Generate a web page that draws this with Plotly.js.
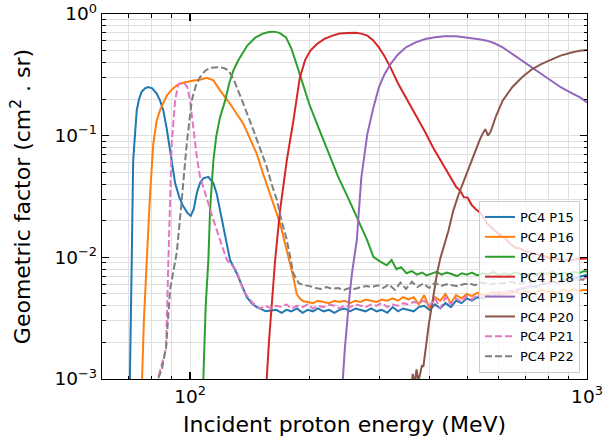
<!DOCTYPE html>
<html>
<head>
<meta charset="utf-8">
<script src="https://cdn.plot.ly/plotly-3.0.1.min.js"></script>
<style>html,body{margin:0;padding:0;background:#fff;}#chart{width:606px;height:445px;}</style>
</head>
<body>
<div id="chart"></div>
<script>
// ---- data (energy in MeV, geometric factor in cm^2 sr) ----
const seriesNames = ['PC4 P15','PC4 P16','PC4 P17','PC4 P18','PC4 P19','PC4 P20','PC4 P21','PC4 P22'];

const E15 = [70.3,70.6,71.3,71.9,72.6,73.4,74.4,75.5,77.0,78.5,80.3,82.4,84.0,85.6,87.3,89.0,90.4,91.7,94.0,96.2,98.5,100.4,102.2,104.0,106.0,108.0,111.2,114.5,116.8,119.0,122.5,126.1,131.1,135.0,139.0,143.0,147.2,
  150,155,160,165,170,175,180,186,192,198,204,210,217,224,231,238,245,253,261,269,277,286,295,304,314,324,334,344,355,366,377,389,401,414,427,440,454,468,483,498,513,529,546,563,581,599,618,638,658,679,700,722,745,768,792,817,843,870,897,925,954,984,1000];
const G15 = [0.0005,0.001,0.0095,0.0628,0.11,0.162,0.2,0.229,0.245,0.251,0.245,0.222,0.195,0.162,0.115,0.076,0.055,0.0408,0.031,0.0261,0.0232,0.0219,0.025,0.0338,0.041,0.0446,0.0459,0.0406,0.033,0.0245,0.0155,0.0095,0.0074,0.0058,0.0047,0.0042,0.0039,
  0.0038,0.0036,0.00365,0.0037,0.0035,0.0037,0.0036,0.0038,0.0035,0.0037,
  0.0036,0.0038,0.0036,0.0037,0.0035,0.0037,0.0038,0.0036,0.0038,0.0037,
  0.0036,0.0038,0.0036,0.0037,0.0035,0.0039,0.0036,0.0038,0.0037,0.0036,
  0.0039,0.0040,0.0037,0.0041,0.0038,0.0042,0.0039,0.0044,0.0042,0.0046,
  0.0044,0.0047,0.0046,0.0049,0.0048,0.0051,0.0050,0.0053,0.0052,0.0055,
  0.0056,0.0058,0.0057,0.0060,0.0061,0.0063,0.0062,0.0066,0.0065,0.0068,
  0.0069,0.0071,0.0072];

const E16 = [75.2,75.6,76.5,77.8,79.3,80.8,82.3,84.0,85.7,87.4,90.0,92.6,96.0,100,103,106,110.2,114.5,119,126.1,131,136.2,141.5,147.2,153,159,164,168.6,173,176.9,180,182,184,185.6,189,193,
  198,204,210,217,224,231,238,245,253,261,269,277,286,295,304,314,324,334,344,355,366,377,389,401,414,427,440,454,468,483,498,513,529,546,563,581,599,618,638,658,679,700,722,745,768,792,817,843,870,897,925,954,984,1000];
const G16 = [0.0005,0.001,0.003,0.0095,0.0334,0.086,0.13,0.162,0.19,0.214,0.24,0.259,0.272,0.281,0.285,0.288,0.299,0.285,0.236,0.183,0.152,0.1255,0.095,0.0711,0.048,0.0334,0.024,0.019,0.0135,0.0101,0.0082,0.0069,0.0058,0.0050,0.0046,0.00436,
  0.0043,0.0042,0.0044,0.0043,0.0042,0.0044,0.0043,0.0044,0.0042,0.0044,
  0.0043,0.0045,0.0044,0.0043,0.0045,0.0044,0.0046,0.0044,0.0047,0.0045,
  0.0047,0.0041,0.0049,0.0038,0.0047,0.0044,0.0050,0.0042,0.0049,0.0046,
  0.0050,0.0048,0.0051,0.0049,0.0050,0.0052,0.0049,0.0051,0.0050,0.0052,
  0.0050,0.0053,0.0051,0.0052,0.0054,0.0052,0.0053,0.0051,0.0054,0.0052,
  0.0055,0.0053,0.0054,0.0054];

const E17 = [107.5,108.0,109.5,111.2,112.3,114.5,116.5,119,122.6,125.5,128.6,132.3,139.4,146,152.5,158,163,168,174.5,180,186.6,193,199.6,211,223.4,236,249.8,264,279,289.6,300,313,322,331,340,351,
  362,373,384,394,406,418,430,443,456,470,484,498,513,529,546,563,581,599,618,638,658,679,700,722,745,768,792,817,843,870,897,925,954,984,1000];
const G17 = [0.0005,0.001,0.004,0.0095,0.0245,0.0628,0.1,0.142,0.195,0.27,0.344,0.416,0.55,0.64,0.69,0.71,0.716,0.70,0.643,0.52,0.364,0.26,0.182,0.115,0.0707,0.046,0.0311,0.021,0.014,0.0101,0.0093,0.0086,0.0095,0.0080,0.0083,0.0074,
  0.0077,0.0072,0.0075,0.0071,0.0074,0.0076,0.0072,0.0075,0.0073,0.0070,
  0.0074,0.0072,0.0075,0.0071,0.0074,0.0072,0.0076,0.0071,0.0074,0.0072,
  0.0075,0.0073,0.0071,0.0074,0.0072,0.0075,0.0073,0.0076,0.0072,0.0075,
  0.0073,0.0076,0.0074,0.0077,0.0076];

const E18 = [155.5,156,158,160.5,163.8,168.6,175.3,182.2,189,195,201,208.8,218,228.4,238,249.8,261.3,270,279.6,289,299,309,319.8,334,349.9,362,374.2,391,409.4,428,447.8,468,480,489.8,500,512,524,540,560,580,600,620,640,660,680,700,730,760,790,820,860,900,950,1000];
const G18 = [0.0005,0.001,0.002,0.0039,0.0095,0.0245,0.063,0.134,0.30,0.42,0.50,0.567,0.625,0.664,0.69,0.698,0.70,0.69,0.664,0.61,0.532,0.45,0.364,0.27,0.206,0.17,0.141,0.107,0.08,0.062,0.0484,0.038,0.035,0.0311,0.031,0.027,0.025,0.023,0.019,0.017,0.0155,0.0145,0.013,0.012,0.0118,0.0112,0.0108,0.0104,0.0101,0.0098,0.0096,0.0094,0.0097,0.0098];

const E19 = [242,242.6,245.5,248.3,252,255.8,263.1,270,279.6,289,299,309,319.8,334,349.9,370,391.4,414,437.8,468.3,490,512.3,535,560,585,613.1,648,686,725,767.4,810,858.4,910,960.5,1000];
const G19 = [0.0005,0.001,0.0018,0.00286,0.0047,0.0074,0.0139,0.045,0.103,0.165,0.25,0.32,0.388,0.465,0.532,0.585,0.623,0.645,0.655,0.655,0.645,0.631,0.62,0.604,0.575,0.532,0.47,0.413,0.365,0.321,0.285,0.25,0.226,0.206,0.188];

const E20 = [360,364,368,372,376,380,384,387,394,400,406,412,419,427,435,443,447.8,460,475,489.8,505,520,535.8,545,554.2,558,562.9,568,573,590,613,648,686,725,767,810,858,910,960,1000];
const G20 = [0.0008,0.0011,0.0009,0.0012,0.00095,0.0011,0.0013,0.00126,0.0021,0.0029,0.0039,0.0053,0.0074,0.0098,0.0122,0.0145,0.0166,0.024,0.033,0.0427,0.056,0.072,0.091,0.103,0.113,0.108,0.1,0.104,0.11,0.145,0.194,0.25,0.302,0.35,0.388,0.42,0.455,0.48,0.50,0.506];

const E21 = [82.5,83.1,84.0,85.6,87.0,88.2,89.0,89.9,91.7,93.4,96.2,98.4,100,101.9,104,106,110.2,114.5,119,123.8,131,136,140,144,150,
  155,160,165,170,175,180,186,192,198,204,210,217,224,231,238,245,253,261,269,277,286,295,304,314,324,334,344,355,366,377,389,401,414,427,440,454,468,483,498,513,529,546,563,581,599,618,638,658,679,700,722,745,768,792,817,843,870,897,925,954,984,1000];
const G21 = [0.0006,0.001,0.00117,0.00147,0.00178,0.0095,0.0297,0.086,0.195,0.264,0.276,0.251,0.195,0.118,0.067,0.0458,0.0297,0.0203,0.0139,0.0095,0.0078,0.0054,0.0047,0.0042,0.0038,
  0.0040,0.0038,0.0040,0.0039,0.0041,0.0038,0.0040,0.0039,0.0041,0.0038,
  0.0040,0.0039,0.0041,0.0040,0.0038,0.0040,0.0039,0.0041,0.0040,0.0039,
  0.0041,0.0040,0.0042,0.0039,0.0041,0.0040,0.0042,0.0041,0.0043,0.0042,
  0.0044,0.0040,0.0046,0.0038,0.0047,0.0041,0.0046,0.0043,0.0048,0.0045,
  0.0049,0.0047,0.0050,0.0049,0.0052,0.0051,0.0053,0.0054,0.0055,0.0056,
  0.0057,0.0058,0.0059,0.0060,0.0062,0.0061,0.0064,0.0063,0.0066,0.0065,
  0.0067,0.0068];

const E22 = [82.0,83.0,84.9,87.0,89.1,92.6,95.3,98.1,101,103.5,106,109,112.3,116,119,122,124.9,128.6,132,136.2,144.4,150,156,160.5,165.4,170,175.3,182,188.1,194,200.5,
  207,214,221,228,236,244,252,260,269,278,287,297,307,317,328,339,350,362,374,387,400,414,428,442,457,472,488,505,522,540,558,577,597,617,638,660,682,705,729,754,780,806,834,862,891,921,953,985,1000];
const G22 = [0.0007,0.001,0.0012,0.0018,0.0055,0.011,0.0297,0.086,0.195,0.26,0.303,0.34,0.362,0.367,0.366,0.358,0.344,0.294,0.24,0.183,0.111,0.08,0.0554,0.04,0.0297,0.02,0.0139,0.0074,0.0061,0.0059,0.0058,
  0.0056,0.0055,0.0057,0.0055,0.0056,0.0054,0.0056,0.0055,0.0057,0.0058,
  0.0057,0.0059,0.0056,0.0060,0.0054,0.0062,0.0055,0.0063,0.0057,0.0061,
  0.0056,0.0062,0.0058,0.0060,0.0059,0.0058,0.0060,0.0061,0.0059,0.0062,
  0.0061,0.0060,0.0062,0.0061,0.0063,0.0062,0.0061,0.0063,0.0062,0.0064,
  0.0063,0.0062,0.0064,0.0063,0.0065,0.0064,0.0066,0.0065,0.0065];

const xTickVals = [100, 1000];
const xTickText = ['10<sup>2</sup>', '10<sup>3</sup>'];
const xMinorVals = [60,70,80,90,200,300,400,500,600,700,800,900];
const yTickVals = [0.001, 0.01, 0.1, 1];
const yTickText = ['10<sup>−3</sup>', '10<sup>−2</sup>', '10<sup>−1</sup>', '10<sup>0</sup>'];
const yMinorVals = [0.002,0.003,0.004,0.005,0.006,0.007,0.008,0.009,0.02,0.03,0.04,0.05,0.06,0.07,0.08,0.09,0.2,0.3,0.4,0.5,0.6,0.7,0.8,0.9];

// ---- styling ----
const colors = ['#1f77b4','#ff7f0e','#2ca02c','#d62728','#9467bd','#8c564b','#e377c2','#7f7f7f'];
const dashes = ['solid','solid','solid','solid','solid','solid','7px,3px','7px,3px'];
const xs = [E15,E16,E17,E18,E19,E20,E21,E22];
const ys = [G15,G16,G17,G18,G19,G20,G21,G22];

const traces = seriesNames.map((n, i) => ({
  type: 'scatter', mode: 'lines', name: n,
  x: xs[i], y: ys[i],
  line: {color: colors[i], width: 2, dash: dashes[i]}
}));

const font = 'DejaVu Sans, sans-serif';
const gridC = '#e0e0e0';

const layout = {
  width: 606, height: 445,
  margin: {l: 102, r: 19, t: 14, b: 66, pad: 0},
  paper_bgcolor: '#ffffff', plot_bgcolor: '#ffffff',
  font: {family: font, color: '#000000', size: 18},
  showlegend: true,
  xaxis: {
    type: 'log', range: [Math.log10(60), 3],
    tickmode: 'array', tickvals: xTickVals, ticktext: xTickText,
    ticks: 'inside', ticklen: 7, tickwidth: 1.3, tickcolor: '#000',
    showline: true, linecolor: '#000', linewidth: 1.3, mirror: 'allticks',
    showgrid: true, gridcolor: gridC, gridwidth: 1, zeroline: false,
    ticklabeloverflow: 'allow',
    tickfont: {family: font, size: 18.5, color: '#000'},
    minor: {tickmode: 'array', tickvals: xMinorVals, ticks: 'inside', ticklen: 3.5, tickwidth: 1, tickcolor: '#000', showgrid: true, gridcolor: gridC, gridwidth: 1},
    title: {text: 'Incident proton energy (MeV)', font: {family: font, size: 22, color: '#000'}, standoff: 11}
  },
  yaxis: {
    type: 'log', range: [-3, 0],
    tickmode: 'array', tickvals: yTickVals, ticktext: yTickText,
    ticks: 'inside', ticklen: 7, tickwidth: 1.3, tickcolor: '#000',
    showline: true, linecolor: '#000', linewidth: 1.3, mirror: 'allticks',
    showgrid: true, gridcolor: gridC, gridwidth: 1, zeroline: false,
    ticklabeloverflow: 'allow',
    tickfont: {family: font, size: 18.5, color: '#000'},
    minor: {tickmode: 'array', tickvals: yMinorVals, ticks: 'inside', ticklen: 3.5, tickwidth: 1, tickcolor: '#000', showgrid: true, gridcolor: gridC, gridwidth: 1},
    title: {text: 'Geometric factor (cm<sup>2</sup> . sr)', font: {family: font, size: 22, color: '#000'}, standoff: 17}
  },
  legend: {
    x: 0.9856, xanchor: 'right', y: 0.0164, yanchor: 'bottom',
    bgcolor: 'rgba(255,255,255,0.8)', bordercolor: '#cccccc', borderwidth: 1,
    font: {family: font, size: 13, color: '#000'}, tracegroupgap: 0
  }
};

Plotly.newPlot('chart', traces, layout, {displayModeBar: false, staticPlot: true});
</script>
</body>
</html>
